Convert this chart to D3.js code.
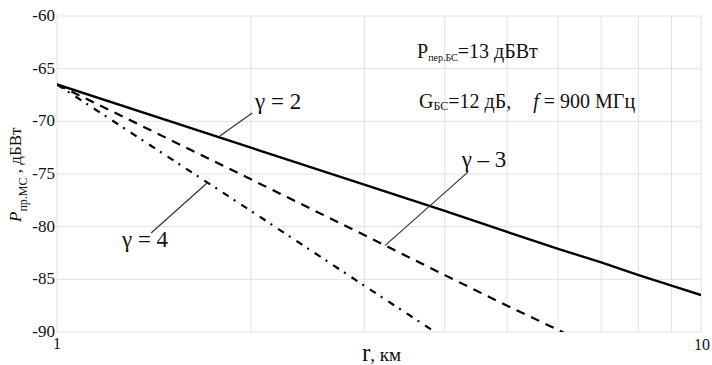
<!DOCTYPE html>
<html><head><meta charset="utf-8">
<script src="https://cdn.jsdelivr.net/npm/d3@7"></script>
</head>
<body style="margin:0;background:#fff">
<svg id="c" width="712" height="365"></svg>
<script>
// Data
const distances = [1, 2, 3, 4, 5, 6, 7, 8, 9, 10];
const gamma2 = [-66.5, -72.5, -76.0, -78.5, -80.5, -82.1, -83.4, -84.6, -85.6, -86.5];
const gamma3 = [-66.5, -75.5, -80.8, -84.6, -87.5, -89.8, -91.9, -93.6, -95.1, -96.5];
const gamma4 = [-66.5, -78.5, -85.6, -90.6, -94.5, -97.6, -100.3, -102.6, -104.7, -106.5];
const yTicks = [-60, -65, -70, -75, -80, -85, -90];
const xTickLabels = [1, 10];
const xGrid = [1, 2, 3, 4, 5, 6, 7, 8, 9, 10];
const seriesNames = ["γ = 2", "γ – 3", "γ = 4"];
// leader lines [r1, dB1, r2, dB2]
const leaders = [
  [1.79, -71.4, 2.01, -69.2],
  [3.23, -81.8, 4.35, -74.8],
  [1.71, -75.85, 1.40, -80.6]
];

const svg = d3.select("#c");
const L = 57, R = 701, T = 16, B = 332;
const x = d3.scaleLog().domain([1, 10]).range([L, R]);
const y = d3.scaleLinear().domain([-90, -60]).range([B, T]);

function txt(sel) { return sel.attr("font-family", "Liberation Serif").attr("fill", "#111"); }

// grid
svg.append("g").selectAll("line").data(yTicks).join("line")
  .attr("x1", L).attr("x2", R).attr("y1", d => y(d)).attr("y2", d => y(d))
  .attr("stroke", "#e2e2e2").attr("stroke-width", 1);
svg.append("g").selectAll("line").data(xGrid).join("line")
  .attr("x1", d => x(d)).attr("x2", d => x(d)).attr("y1", T).attr("y2", B)
  .attr("stroke", "#e2e2e2").attr("stroke-width", 1);

// y tick labels
txt(svg.append("g").selectAll("text").data(yTicks).join("text"))
  .attr("x", L - 2).attr("y", d => y(d) + 5).attr("text-anchor", "end")
  .attr("font-size", 17).text(d => d);
// x tick labels
txt(svg.append("text")).attr("x", x(xTickLabels[0])).attr("y", 349).attr("text-anchor", "middle")
  .attr("font-size", 16).text(xTickLabels[0]);
txt(svg.append("text")).attr("x", x(xTickLabels[1]) + 1).attr("y", 350).attr("text-anchor", "middle")
  .attr("font-size", 16).text(xTickLabels[1]);

// clip
svg.append("clipPath").attr("id", "clip").append("rect")
  .attr("x", L).attr("y", T).attr("width", R - L).attr("height", B - T);

const line = d3.line().x((d, i) => x(distances[i])).y(d => y(d));
const g = svg.append("g").attr("clip-path", "url(#clip)");
g.append("path").attr("d", line(gamma2)).attr("fill", "none").attr("stroke", "#000").attr("stroke-width", 2.4);
g.append("path").attr("d", line(gamma3)).attr("fill", "none").attr("stroke", "#000").attr("stroke-width", 2.2)
  .attr("stroke-dasharray", "9,7");
g.append("path").attr("d", line(gamma4)).attr("fill", "none").attr("stroke", "#000").attr("stroke-width", 2.2)
  .attr("stroke-dasharray", "7,6,2,7");

// leaders
svg.append("g").selectAll("line").data(leaders).join("line")
  .attr("x1", d => x(d[0])).attr("y1", d => y(d[1]))
  .attr("x2", d => x(d[2])).attr("y2", d => y(d[3]))
  .attr("stroke", "#333").attr("stroke-width", 1.2);

// series labels
const labelPos = [[2.03, -68.85, "start"], [4.25, -74.3, "start"], [1.37, -81.9, "middle"]];
labelPos.forEach((p, i) => {
  txt(svg.append("text")).attr("x", x(p[0])).attr("y", y(p[1])).attr("text-anchor", p[2])
    .attr("font-size", 23).text(seriesNames[i]);
});

// annotation
const a1 = txt(svg.append("text")).attr("x", 417).attr("y", 58).attr("font-size", 20);
a1.append("tspan").text("P");
a1.append("tspan").attr("font-size", 10).attr("dy", 3).text("пер.БС");
a1.append("tspan").attr("dy", -3).text("=13 дБВт");
const a2 = txt(svg.append("text")).attr("x", 419).attr("y", 108).attr("font-size", 20);
a2.append("tspan").text("G");
a2.append("tspan").attr("font-size", 12).attr("dy", 2).text("БС");
a2.append("tspan").attr("dy", -2).text("=12 дБ,");
a2.append("tspan").attr("dx", 22).attr("font-style", "italic").text("f");
a2.append("tspan").text(" = 900 МГц");

// axis titles
const xt = txt(svg.append("text")).attr("x", 362).attr("y", 361);
xt.append("tspan").attr("font-size", 25).text("r");
xt.append("tspan").attr("font-size", 19).text(", км");

const yt = txt(svg.append("text")).attr("transform", "translate(21,222) rotate(-90)").attr("font-size", 17);
yt.append("tspan").attr("font-style", "italic").text("P");
yt.append("tspan").attr("font-size", 12).attr("dy", 6).text("пр.МС");
yt.append("tspan").attr("dy", -6).text(" , дБВт");
</script></body></html>
